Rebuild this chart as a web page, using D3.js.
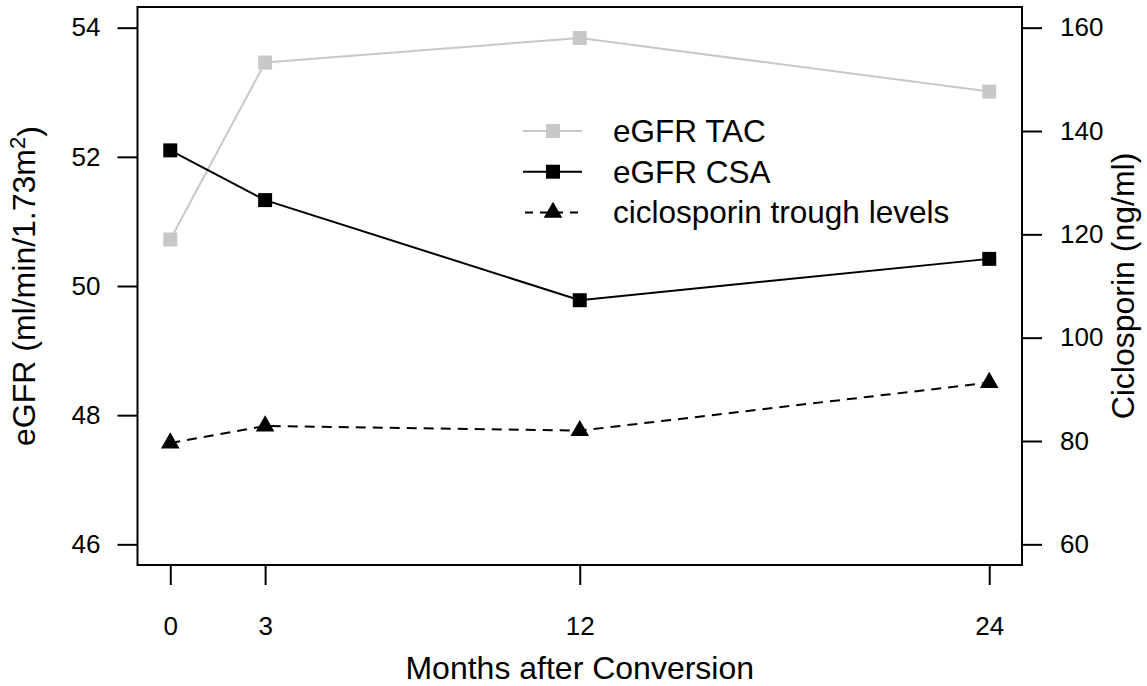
<!DOCTYPE html>
<html>
<head>
<meta charset="utf-8">
<script src="https://cdn.jsdelivr.net/npm/d3@7"></script>
<style>
  body { margin: 0; background: #fff; }
  text { font-family: "Liberation Sans", Arial, sans-serif; fill: #000; }
</style>
</head>
<body>
<div class="canvas"></div>
<script>
// data
const timePoints = [0, 2.78, 12, 24];
const monthLabels = ["0", "3", "12", "24"];
const egfrTac = [50.72, 53.46, 53.84, 53.01];
const egfrCsa = [52.10, 51.33, 49.78, 50.42];
const csaTrough = [79.6, 82.9, 82.0, 91.3];
const leftTicks = [46, 48, 50, 52, 54];
const rightTicks = [60, 80, 100, 120, 140, 160];
const legendNames = ["eGFR TAC", "eGFR CSA", "ciclosporin trough levels"];

const dims = { width: 1147, height: 686 };
const box = { left: 137.5, right: 1022, top: 7, bottom: 565 };
const grey = "#c8c8c8";

const svg = d3.select(".canvas")
  .append("svg")
  .attr("width", dims.width)
  .attr("height", dims.height);

// R style: 4% padding around the data range
const x = d3.scaleLinear().domain([-0.96, 24.96]).range([box.left, box.right]);
const yL = d3.scaleLinear().domain([45.68, 54.32]).range([box.bottom, box.top]);
const yR = d3.scaleLinear().domain([56, 164]).range([box.bottom, box.top]);

const axisStyle = g => {
  g.select(".domain").remove();
  g.selectAll(".tick line").attr("stroke", "#000").attr("stroke-width", 2);
  g.selectAll(".tick text").style("font-size", "26px");
};

svg.append("g")
  .attr("transform", `translate(0,${box.bottom})`)
  .call(d3.axisBottom(x).tickValues(timePoints)
    .tickFormat((d, i) => monthLabels[i]).tickSize(20).tickPadding(32))
  .call(axisStyle);

svg.append("g")
  .attr("transform", `translate(${box.left},0)`)
  .call(d3.axisLeft(yL).tickValues(leftTicks).tickSize(20).tickPadding(17))
  .call(axisStyle);

svg.append("g")
  .attr("transform", `translate(${box.right},0)`)
  .call(d3.axisRight(yR).tickValues(rightTicks).tickSize(20).tickPadding(18))
  .call(axisStyle);

svg.append("rect")
  .attr("x", box.left).attr("y", box.top)
  .attr("width", box.right - box.left).attr("height", box.bottom - box.top)
  .attr("fill", "none").attr("stroke", "#000").attr("stroke-width", 2);

// series
const series = [
  { name: legendNames[0], vals: egfrTac, y: yL, color: grey, dash: null, shape: "square" },
  { name: legendNames[1], vals: egfrCsa, y: yL, color: "#000", dash: null, shape: "square" },
  { name: legendNames[2], vals: csaTrough, y: yR, color: "#000", dash: "10,7", shape: "triangle" }
];

const square = d3.symbol(d3.symbolSquare, 196);
const triangle = d3.symbol(d3.symbolTriangle, 150);

series.forEach(s => {
  const pts = timePoints.map((t, i) => [x(t), s.y(s.vals[i])]);
  svg.append("path")
    .attr("d", d3.line()(pts))
    .attr("fill", "none")
    .attr("stroke", s.color)
    .attr("stroke-width", 2)
    .attr("stroke-dasharray", s.dash);
  svg.selectAll(null)
    .data(pts)
    .enter().append("path")
    .attr("transform", d => `translate(${d[0]},${d[1]})`)
    .attr("d", s.shape === "square" ? square : triangle)
    .attr("fill", s.color);
});

// legend
const legend = svg.append("g").attr("transform", "translate(523,131)");
series.forEach((s, i) => {
  const row = legend.append("g").attr("transform", `translate(0,${i * 40.7})`);
  row.append("line")
    .attr("x1", 0).attr("x2", 59)
    .attr("stroke", s.color).attr("stroke-width", 2)
    .attr("stroke-dasharray", s.dash ? "8,7" : null)
    .attr("stroke-dashoffset", s.dash ? -2 : null);
  row.append("path")
    .attr("transform", "translate(30,0)")
    .attr("d", s.shape === "square" ? square : triangle)
    .attr("fill", s.color);
  row.append("text")
    .attr("x", 90).attr("dy", "0.35em")
    .style("font-size", "31.5px")
    .text(s.name);
});

// axis titles
svg.append("text")
  .attr("x", (box.left + box.right) / 2).attr("y", 679)
  .attr("text-anchor", "middle")
  .style("font-size", "32px")
  .text("Months after Conversion");

const yTitle = svg.append("text")
  .attr("transform", `translate(35,${(box.top + box.bottom) / 2}) rotate(-90)`)
  .attr("text-anchor", "middle")
  .style("font-size", "32px");
yTitle.append("tspan").text("eGFR (ml/min/1.73m");
yTitle.append("tspan").attr("dy", "-0.45em").style("font-size", "22px").text("2");
yTitle.append("tspan").attr("dy", "0.45em").text(")");

svg.append("text")
  .attr("transform", `translate(1134,${(box.top + box.bottom) / 2}) rotate(-90)`)
  .attr("text-anchor", "middle")
  .style("font-size", "32px")
  .text("Ciclosporin (ng/ml)");
</script>
</body>
</html>
